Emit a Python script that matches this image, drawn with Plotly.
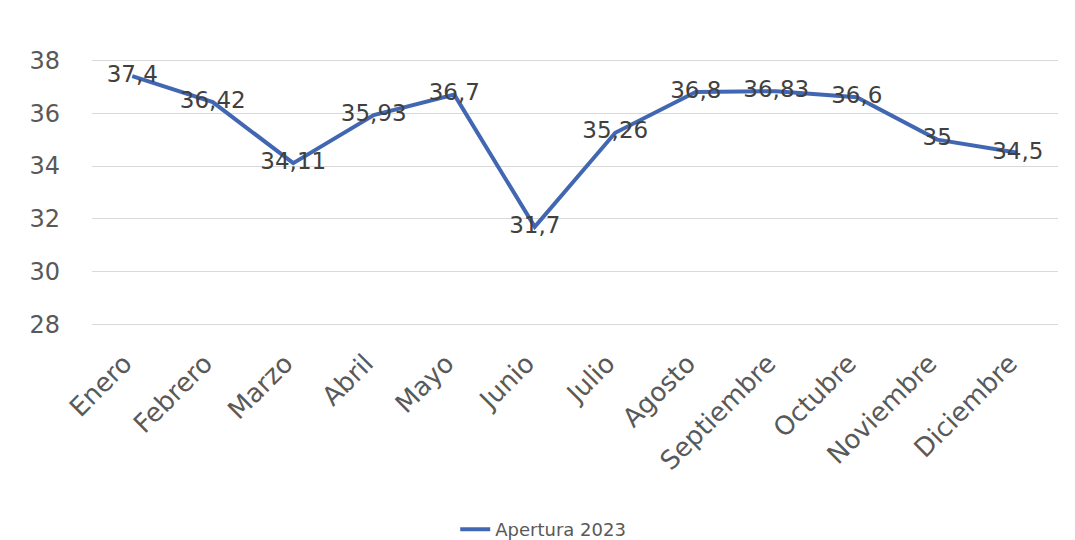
import plotly.graph_objects as go

months = ["Enero", "Febrero", "Marzo", "Abril", "Mayo", "Junio", "Julio",
          "Agosto", "Septiembre", "Octubre", "Noviembre", "Diciembre"]
values = [37.4, 36.42, 34.11, 35.93, 36.7, 31.7, 35.26, 36.8, 36.83, 36.6, 35, 34.5]
series_name = "Apertura 2023"
y_ticks = [28, 30, 32, 34, 36, 38]

labels = [("%g" % v).replace(".", ",") for v in values]

font_family = "DejaVu Sans, sans-serif"
text_color = "#595959"

fig = go.Figure()
fig.add_trace(go.Scatter(
    x=months, y=values, name=series_name,
    mode="lines+text", text=labels, textposition="middle center",
    textfont=dict(family=font_family, size=23, color="#404040"),
    line=dict(color="#4267B2", width=4),
    cliponaxis=False,
))

fig.update_layout(
    width=1075, height=540,
    paper_bgcolor="white", plot_bgcolor="white",
    margin=dict(l=84, r=25, t=47, b=218),
    font=dict(family=font_family, color=text_color),
    showlegend=True,
    legend=dict(orientation="h", x=0.376, xanchor="left", yref="container",
                y=-0.015, yanchor="bottom", font=dict(size=18, color=text_color)),
    xaxis=dict(type="category", range=[-0.5, 11.5], tickangle=-45,
               tickfont=dict(size=26, color=text_color), showgrid=False,
               showline=False, ticks="", ticklabelstandoff=12, ticklabelshift=-8),
    yaxis=dict(range=[27.8, 38.2], tickvals=y_ticks, ticktext=[str(t) for t in y_ticks],
               tickfont=dict(size=24, color=text_color),
               showgrid=True, gridcolor="#d9d9d9", gridwidth=1,
               zeroline=False, showline=False, ticks="", ticklabelstandoff=31),
)

fig.write_html("out.html")
